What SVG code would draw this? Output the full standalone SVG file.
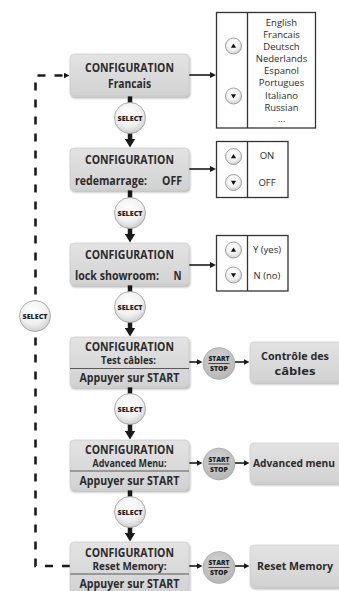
<svg xmlns="http://www.w3.org/2000/svg" width="339" height="591" viewBox="0 0 339 591">
<style>
.box{fill:url(#gBox);stroke:#c4c4c4;stroke-width:0.6;filter:url(#sh)}
.res{fill:url(#gBox);stroke:#c8c8c8;stroke-width:0.6;filter:url(#sh)}
.opt{fill:#fff;stroke:#333;stroke-width:1.3}
.div{stroke:#333;stroke-width:1.3}
.sep{stroke:#5a5a5a;stroke-width:1.2}
.t{font-family:"Open Sans","DejaVu Sans",sans-serif;font-weight:700;fill:#2b2b2b;text-anchor:middle}
.tl{font-family:"Open Sans","DejaVu Sans",sans-serif;font-weight:700;fill:#2b2b2b}
.o{font-family:"Open Sans","DejaVu Sans",sans-serif;font-size:9.5px;fill:#2b2b2b;text-anchor:middle}
.sel{fill:url(#gSel);stroke:#9a9a9a;stroke-width:0.8}
.selt{font-family:"Open Sans","DejaVu Sans",sans-serif;font-weight:800;font-size:7px;fill:#222;text-anchor:middle}
.ss{fill:url(#gSS);stroke:#a0a0a0;stroke-width:0.6}
.sst{font-family:"Open Sans","DejaVu Sans",sans-serif;font-weight:800;font-size:6.5px;fill:#222;text-anchor:middle}
.btn{fill:url(#gSel);stroke:#8a8a8a;stroke-width:0.8}
.thick{stroke:#1a1a1a;stroke-width:4.5;fill:none;marker-end:url(#big)}
.thin{stroke:#1a1a1a;stroke-width:1.6;fill:none;marker-end:url(#small)}
.dash{stroke:#1a1a1a;stroke-width:2.6;fill:none;stroke-dasharray:8 9;marker-end:url(#small)}
</style>
<defs>
<linearGradient id="gBox" x1="0" y1="0" x2="0" y2="1">
<stop offset="0" stop-color="#e3e3e3"/><stop offset="1" stop-color="#d2d2d2"/>
</linearGradient>
<radialGradient id="gSel" cx="0.45" cy="0.35" r="0.7">
<stop offset="0" stop-color="#ffffff"/><stop offset="0.6" stop-color="#f0f0f0"/><stop offset="1" stop-color="#c8c8c8"/>
</radialGradient>
<radialGradient id="gSS" cx="0.45" cy="0.35" r="0.7">
<stop offset="0" stop-color="#d4d4d4"/><stop offset="1" stop-color="#b4b4b4"/>
</radialGradient>
<filter id="sh" x="-10%" y="-10%" width="125%" height="130%">
<feGaussianBlur in="SourceAlpha" stdDeviation="1.3"/>
<feOffset dx="1" dy="1.5" result="b"/>
<feComponentTransfer><feFuncA type="linear" slope="0.3"/></feComponentTransfer>
<feMerge><feMergeNode/><feMergeNode in="SourceGraphic"/></feMerge>
</filter>
<marker id="big" viewBox="0 0 9 11" refX="0.5" refY="5.5" markerWidth="9" markerHeight="11" markerUnits="userSpaceOnUse" orient="auto">
<path d="M0,0 L9,5.5 L0,11 z" fill="#1a1a1a"/>
</marker>
<marker id="small" viewBox="0 0 6 6" refX="0.5" refY="3" markerWidth="6" markerHeight="6" markerUnits="userSpaceOnUse" orient="auto">
<path d="M0,0 L6,3 L0,6 z" fill="#1a1a1a"/>
</marker>
<g id="up"><circle class="btn" r="8"/><path d="M-2.6,1.8 L0,-2.4 L2.6,1.8 z" fill="#111"/></g>
<g id="down"><circle class="btn" r="8"/><path d="M-2.6,-1.8 L0,2.4 L2.6,-1.8 z" fill="#111"/></g>
</defs>

<g id="connectors">
<path class="dash" d="M70,566 H35.5 V75.5 H64"/>
<line class="thick" x1="130" y1="96" x2="130" y2="139"/>
<line class="thick" x1="130" y1="190" x2="130" y2="234"/>
<line class="thick" x1="130" y1="285" x2="130" y2="328"/>
<line class="thick" x1="130" y1="387" x2="130" y2="431"/>
<line class="thick" x1="130" y1="490" x2="130" y2="533"/>
<line class="thin" x1="189" y1="75" x2="210.5" y2="75"/>
<line class="thin" x1="189" y1="169" x2="210.5" y2="169"/>
<line class="thin" x1="189" y1="265" x2="210.5" y2="265"/>
<line class="thin" x1="189" y1="362" x2="197" y2="362"/>
<line class="thin" x1="235" y1="362" x2="244" y2="362"/>
<line class="thin" x1="189" y1="463" x2="197" y2="463"/>
<line class="thin" x1="235" y1="463" x2="244" y2="463"/>
<line class="thin" x1="189" y1="566" x2="197" y2="566"/>
<line class="thin" x1="235" y1="566" x2="244" y2="566"/>
</g>

<g id="config-langue">
<rect class="box" x="70" y="54" width="119" height="42" rx="4"/>
<text class="t" x="129.5" y="72" font-size="12" textLength="89" lengthAdjust="spacingAndGlyphs">CONFIGURATION</text>
<text class="t" x="129.5" y="87.5" font-size="12" textLength="43" lengthAdjust="spacingAndGlyphs">Francais</text>
</g>
<g id="options-langue">
<rect class="opt" x="216.5" y="12.5" width="99" height="115.5"/>
<line class="div" x1="247.5" y1="12.5" x2="247.5" y2="128"/>
<use href="#up" x="233.5" y="46"/>
<use href="#down" x="233.5" y="96"/>
<text class="o" x="281.5" y="26">English</text>
<text class="o" x="281.5" y="38">Francais</text>
<text class="o" x="281.5" y="50">Deutsch</text>
<text class="o" x="281.5" y="62">Nederlands</text>
<text class="o" x="281.5" y="74">Espanol</text>
<text class="o" x="281.5" y="86">Portugues</text>
<text class="o" x="281.5" y="98.5">Italiano</text>
<text class="o" x="281.5" y="110.5">Russian</text>
<text class="o" x="281.5" y="122">...</text>
</g>
<g id="select-1"><circle class="sel" cx="130" cy="118" r="15.5"/><text class="selt" x="130" y="120.5" textLength="25" lengthAdjust="spacingAndGlyphs">SELECT</text></g>

<g id="config-redemarrage">
<rect class="box" x="70" y="148" width="119" height="42" rx="4"/>
<text class="t" x="129.5" y="163.5" font-size="12.5" textLength="89" lengthAdjust="spacingAndGlyphs">CONFIGURATION</text>
<text class="tl" x="75" y="185" font-size="12.5" textLength="72" lengthAdjust="spacingAndGlyphs">redemarrage:</text>
<text class="tl" x="162" y="185" font-size="12.5" textLength="20" lengthAdjust="spacingAndGlyphs">OFF</text>
</g>
<g id="options-redemarrage">
<rect class="opt" x="216.5" y="141.5" width="71.5" height="56"/>
<line class="div" x1="247.5" y1="141.5" x2="247.5" y2="197.5"/>
<use href="#up" x="233.5" y="156.5"/>
<use href="#down" x="233.5" y="182.5"/>
<text class="o" x="267" y="159">ON</text>
<text class="o" x="267" y="185.5">OFF</text>
</g>
<g id="select-2"><circle class="sel" cx="130" cy="213" r="15.5"/><text class="selt" x="130" y="215.5" textLength="25" lengthAdjust="spacingAndGlyphs">SELECT</text></g>

<g id="config-lock">
<rect class="box" x="70" y="243" width="119" height="42" rx="4"/>
<text class="t" x="129.5" y="258.5" font-size="12.5" textLength="89" lengthAdjust="spacingAndGlyphs">CONFIGURATION</text>
<text class="tl" x="75" y="279.5" font-size="12.5" textLength="84" lengthAdjust="spacingAndGlyphs">lock showroom:</text>
<text class="tl" x="173.5" y="279.5" font-size="12.5" textLength="8" lengthAdjust="spacingAndGlyphs">N</text>
</g>
<g id="options-lock">
<rect class="opt" x="216.5" y="235.5" width="71.5" height="55.5"/>
<line class="div" x1="247.5" y1="235.5" x2="247.5" y2="291"/>
<use href="#up" x="233.5" y="250"/>
<use href="#down" x="233.5" y="275"/>
<text class="o" x="267" y="253">Y (yes)</text>
<text class="o" x="267" y="278.5">N (no)</text>
</g>
<g id="select-3"><circle class="sel" cx="130" cy="307" r="15.5"/><text class="selt" x="130" y="309.5" textLength="25" lengthAdjust="spacingAndGlyphs">SELECT</text></g>

<g id="config-test-cables">
<rect class="box" x="70" y="337" width="119" height="50" rx="4"/>
<text class="t" x="129.5" y="350.5" font-size="12" textLength="89" lengthAdjust="spacingAndGlyphs">CONFIGURATION</text>
<text class="t" x="128.5" y="364" font-size="10" textLength="55" lengthAdjust="spacingAndGlyphs">Test câbles:</text>
<line class="sep" x1="70" y1="368.5" x2="189" y2="368.5"/>
<text class="t" x="129.5" y="382" font-size="12.5" textLength="100" lengthAdjust="spacingAndGlyphs">Appuyer sur START</text>
</g>
<g id="startstop-1"><circle class="ss" cx="219" cy="363.5" r="16"/><text class="sst" x="219" y="361" textLength="21" lengthAdjust="spacingAndGlyphs">START</text><line x1="208.5" y1="363.5" x2="229.5" y2="363.5" stroke="#222" stroke-width="0.8"/><text class="sst" x="219" y="371" textLength="18" lengthAdjust="spacingAndGlyphs">STOP</text></g>
<g id="controle-cables">
<rect class="res" x="250" y="342" width="95" height="40" rx="4"/>
<text class="t" x="295" y="360" font-size="11" textLength="68" lengthAdjust="spacingAndGlyphs">Contrôle des</text>
<text class="t" x="295" y="374.5" font-size="11" textLength="41" lengthAdjust="spacingAndGlyphs">câbles</text>
</g>
<g id="select-4"><circle class="sel" cx="130" cy="409" r="15.5"/><text class="selt" x="130" y="411.5" textLength="25" lengthAdjust="spacingAndGlyphs">SELECT</text></g>

<g id="config-advanced">
<rect class="box" x="70" y="440" width="119" height="50" rx="4"/>
<text class="t" x="129.5" y="453.5" font-size="12" textLength="89" lengthAdjust="spacingAndGlyphs">CONFIGURATION</text>
<text class="t" x="129.5" y="467" font-size="10" textLength="74" lengthAdjust="spacingAndGlyphs">Advanced Menu:</text>
<line class="sep" x1="70" y1="471" x2="189" y2="471"/>
<text class="t" x="129.5" y="485" font-size="12.5" textLength="100" lengthAdjust="spacingAndGlyphs">Appuyer sur START</text>
</g>
<g id="startstop-2"><circle class="ss" cx="219" cy="464" r="16"/><text class="sst" x="219" y="461.5" textLength="21" lengthAdjust="spacingAndGlyphs">START</text><line x1="208.5" y1="464" x2="229.5" y2="464" stroke="#222" stroke-width="0.8"/><text class="sst" x="219" y="471.5" textLength="18" lengthAdjust="spacingAndGlyphs">STOP</text></g>
<g id="advanced-menu">
<rect class="res" x="250" y="443" width="95" height="40" rx="4"/>
<text class="tl" x="253" y="467" font-size="10.3" textLength="82" lengthAdjust="spacingAndGlyphs">Advanced menu</text>
</g>
<g id="select-5"><circle class="sel" cx="130" cy="512" r="15.5"/><text class="selt" x="130" y="514.5" textLength="25" lengthAdjust="spacingAndGlyphs">SELECT</text></g>

<g id="config-reset">
<rect class="box" x="70" y="542" width="119" height="52" rx="4"/>
<text class="t" x="129.5" y="556.5" font-size="12" textLength="89" lengthAdjust="spacingAndGlyphs">CONFIGURATION</text>
<text class="t" x="129.5" y="570" font-size="10" textLength="74" lengthAdjust="spacingAndGlyphs">Reset Memory:</text>
<line class="sep" x1="70" y1="574" x2="189" y2="574"/>
<text class="t" x="129.5" y="587.5" font-size="12.5" textLength="100" lengthAdjust="spacingAndGlyphs">Appuyer sur START</text>
</g>
<g id="startstop-3"><circle class="ss" cx="219" cy="567.5" r="16"/><text class="sst" x="219" y="565" textLength="21" lengthAdjust="spacingAndGlyphs">START</text><line x1="208.5" y1="567.5" x2="229.5" y2="567.5" stroke="#222" stroke-width="0.8"/><text class="sst" x="219" y="575" textLength="18" lengthAdjust="spacingAndGlyphs">STOP</text></g>
<g id="reset-memory">
<rect class="res" x="250" y="545" width="95" height="42" rx="4"/>
<text class="t" x="295" y="570" font-size="11" textLength="76" lengthAdjust="spacingAndGlyphs">Reset Memory</text>
</g>

<g id="select-back"><circle class="sel" cx="35" cy="316" r="15.5"/><text class="selt" x="35" y="318.5" textLength="25" lengthAdjust="spacingAndGlyphs">SELECT</text></g>
</svg>
